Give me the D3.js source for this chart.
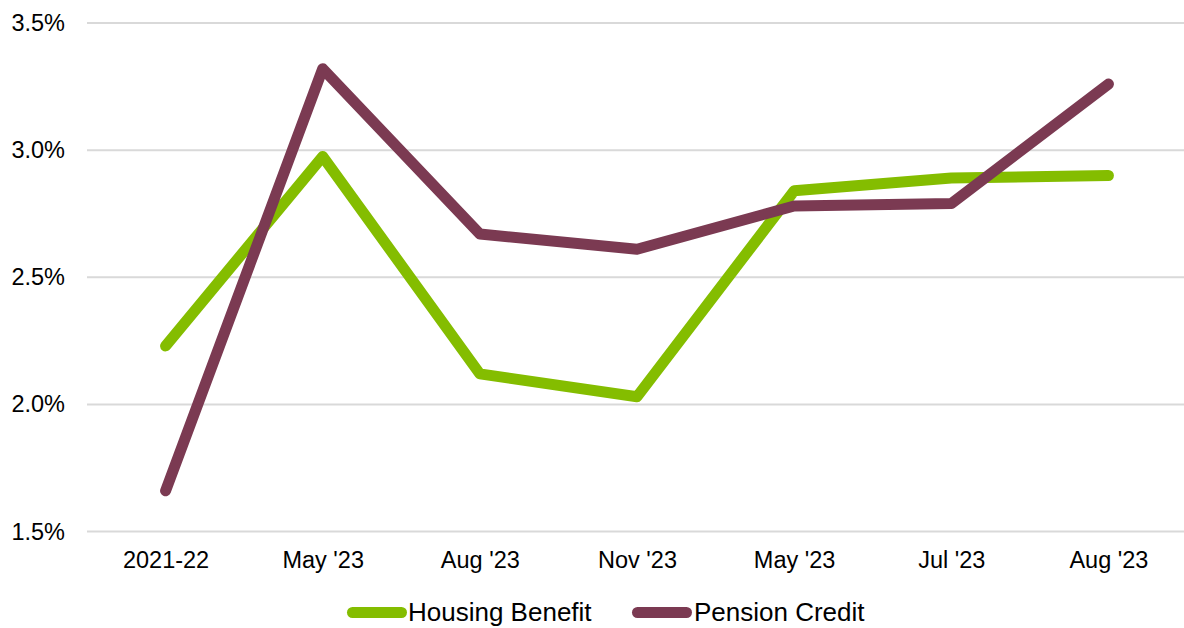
<!DOCTYPE html>
<html>
<head>
<meta charset="utf-8">
<script src="https://cdn.jsdelivr.net/npm/d3@7"></script>
<style>
  html, body { margin: 0; padding: 0; background: #fff; }
  svg { display: block; font-family: "Liberation Sans", Arial, sans-serif; }
</style>
</head>
<body>
<svg id="chart" width="1184" height="628"></svg>
<script>
const categories = ["2021-22", "May '23", "Aug '23", "Nov '23", "May '23 ", "Jul '23", "Aug '23 "];
const housingBenefit = [2.23, 2.975, 2.12, 2.03, 2.84, 2.89, 2.90];
const pensionCredit = [1.66, 3.32, 2.67, 2.61, 2.78, 2.79, 3.26];
const yTicks = [1.5, 2.0, 2.5, 3.0, 3.5];
const seriesNames = ["Housing Benefit", "Pension Credit"];
const seriesColors = ["#84bd00", "#7b3a52"];

const svg = d3.select("#chart");
const mLeft = 87, mRight = 1187, mTop = 23, mBottom = 531.5;

const x = d3.scalePoint().domain(categories).range([mLeft, mRight]).padding(0.5);
const y = d3.scaleLinear().domain([1.5, 3.5]).range([mBottom, mTop]);

// gridlines
svg.append("g").selectAll("line").data(yTicks).join("line")
  .attr("x1", mLeft).attr("x2", 1184)
  .attr("y1", d => y(d)).attr("y2", d => y(d))
  .attr("stroke", "#d9d9d9").attr("stroke-width", 2);

// y axis labels
const yAxis = d3.axisLeft(y).tickValues(yTicks).tickFormat(d => d.toFixed(1) + "%").tickSize(0).tickPadding(0);
const yg = svg.append("g").attr("transform", `translate(65,0)`).call(yAxis);
yg.select(".domain").remove();
yg.selectAll("text").attr("font-size", 23.5).attr("fill", "#000").attr("font-family", "Liberation Sans, Arial, sans-serif");

// x axis labels
const xAxis = d3.axisBottom(x).tickSize(0).tickPadding(0).tickFormat(d => d.trim());
const xg = svg.append("g").attr("transform", `translate(0,${mBottom + 20})`).call(xAxis);
xg.select(".domain").remove();
xg.selectAll("text").attr("font-size", 23.5).attr("fill", "#000").attr("font-family", "Liberation Sans, Arial, sans-serif");

const line = d3.line().x((d, i) => x(categories[i])).y(d => y(d));

[housingBenefit, pensionCredit].forEach((s, k) => {
  svg.append("path").datum(s)
    .attr("d", line)
    .attr("fill", "none")
    .attr("stroke", seriesColors[k])
    .attr("stroke-width", 11)
    .attr("stroke-linecap", "round")
    .attr("stroke-linejoin", "round");
});

// legend
const legendItems = [
  { name: seriesNames[0], color: seriesColors[0], x1: 352.5, x2: 401.5, tx: 408 },
  { name: seriesNames[1], color: seriesColors[1], x1: 637.5, x2: 686.5, tx: 694 }
];
const lg = svg.append("g");
legendItems.forEach(it => {
  lg.append("line").attr("x1", it.x1).attr("x2", it.x2).attr("y1", 612.5).attr("y2", 612.5)
    .attr("stroke", it.color).attr("stroke-width", 11).attr("stroke-linecap", "round");
  lg.append("text").attr("x", it.tx).attr("y", 621)
    .attr("font-size", 26).attr("fill", "#000").text(it.name);
});
</script>
</body>
</html>
